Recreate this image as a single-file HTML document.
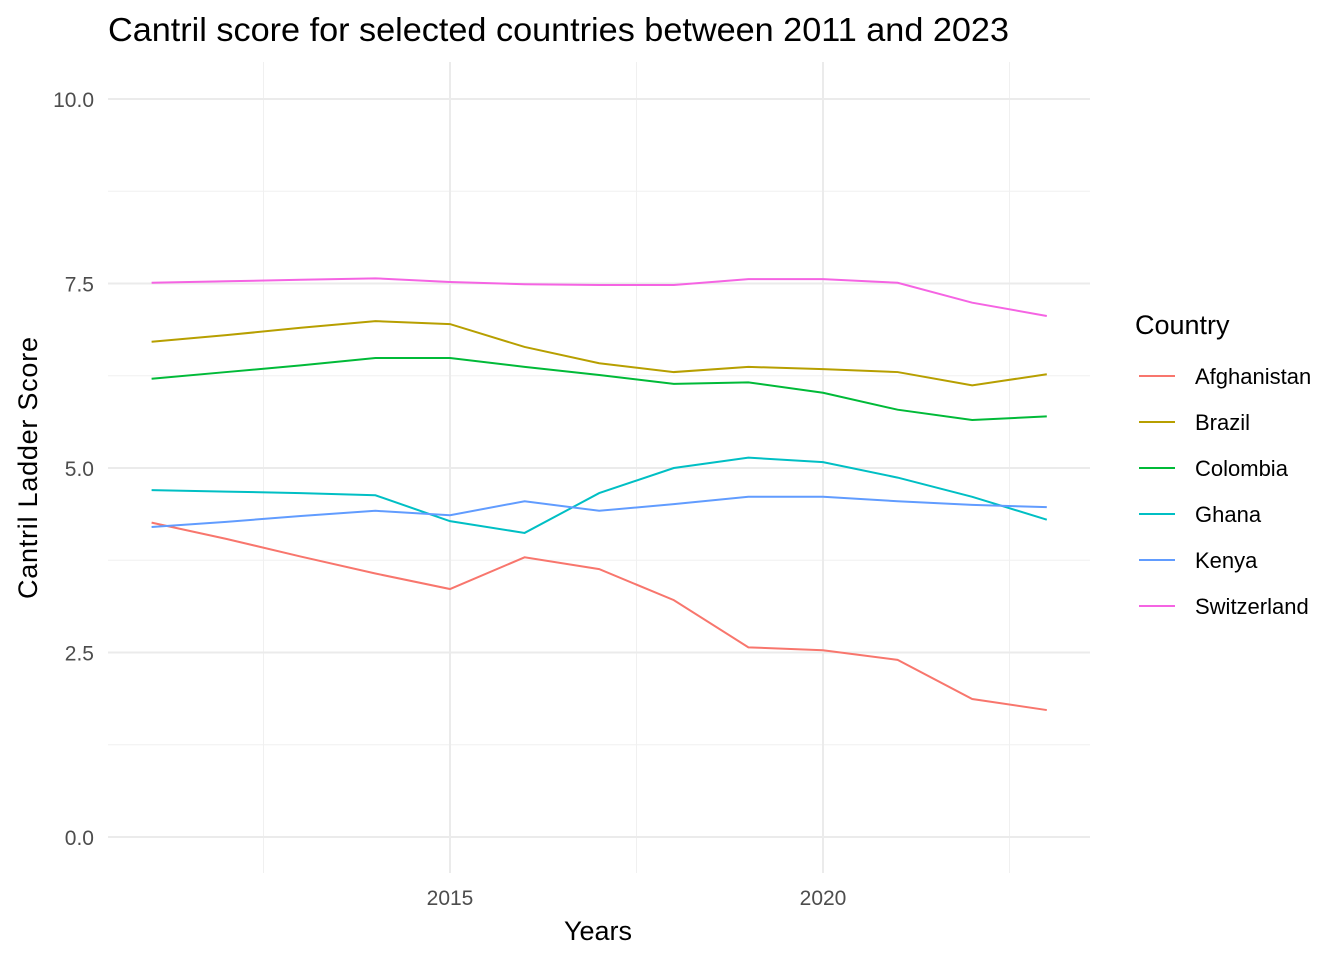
<!DOCTYPE html>
<html><head><meta charset="utf-8"><style>
body{margin:0;background:#fff;}
svg text{font-family:"Liberation Sans",Arial,sans-serif;}
</style></head><body>
<svg id="chart" width="1344" height="960">
<text x="108" y="41" font-size="33" textLength="901" lengthAdjust="spacingAndGlyphs" fill="#000">Cantril score for selected countries between 2011 and 2023</text>
<g id="grid"></g><g id="lines"></g><g id="axes"></g><g id="legend"></g>
<text x="598" y="940" font-size="27" text-anchor="middle" fill="#000">Years</text>
<text transform="translate(37,468) rotate(-90)" font-size="27" text-anchor="middle" textLength="262" fill="#000">Cantril Ladder Score</text>
</svg>
<script>
const years=[2011,2012,2013,2014,2015,2016,2017,2018,2019,2020,2021,2022,2023];
const countries=["Afghanistan","Brazil","Colombia","Ghana","Kenya","Switzerland"];
const colors=["#F8766D","#B79F00","#00BA38","#00BFC4","#619CFF","#F564E3"];
const afghanistan=[4.26,4.04,3.80,3.57,3.36,3.79,3.63,3.21,2.57,2.53,2.40,1.87,1.72];
const brazil=[6.71,6.80,6.90,6.99,6.95,6.64,6.42,6.30,6.37,6.34,6.30,6.12,6.27];
const colombia=[6.21,6.30,6.39,6.49,6.49,6.37,6.26,6.14,6.16,6.02,5.79,5.65,5.70];
const ghana=[4.70,4.68,4.66,4.63,4.28,4.12,4.66,5.00,5.14,5.08,4.87,4.61,4.30];
const kenya=[4.20,4.27,4.35,4.42,4.36,4.55,4.42,4.51,4.61,4.61,4.55,4.50,4.47];
const switzerland=[7.51,7.53,7.55,7.57,7.52,7.49,7.48,7.48,7.56,7.56,7.51,7.24,7.06];
const series=[afghanistan,brazil,colombia,ghana,kenya,switzerland];
const yTicks=[0,2.5,5,7.5,10];
const yMinor=[1.25,3.75,6.25,8.75];
const xTicks=[2015,2020];
const xMinor=[2012.5,2017.5,2022.5];
const NS="http://www.w3.org/2000/svg";
const X=v=>450+(v-2015)*74.6;
const Y=v=>837-v*73.8;
const L=108,R=1090,T=62,B=873;
function mk(tag,attrs,parent){const e=document.createElementNS(NS,tag);for(const k in attrs)e.setAttribute(k,attrs[k]);parent.appendChild(e);return e;}
const grid=document.getElementById('grid'),axes=document.getElementById('axes'),lines=document.getElementById('lines'),legend=document.getElementById('legend');
yMinor.forEach(v=>{const e=mk('line',{x1:L,x2:R,y1:Y(v),y2:Y(v),stroke:"#f0f0f0","stroke-width":1},grid);

});
xMinor.forEach(v=>{const e=mk('line',{x1:X(v),x2:X(v),y1:T,y2:B,stroke:"#f0f0f0","stroke-width":1},grid);

});
yTicks.forEach(v=>{const e=mk('line',{x1:L,x2:R,y1:Y(v),y2:Y(v),stroke:"#ebebeb","stroke-width":2},grid);


const t=mk('text',{x:94,y:Y(v)+8,"font-size":21,"text-anchor":"end",fill:"#4d4d4d"},axes);t.textContent=v.toFixed(1);

});
xTicks.forEach(v=>{const e=mk('line',{x1:X(v),x2:X(v),y1:T,y2:B,stroke:"#ebebeb","stroke-width":2},grid);


const t=mk('text',{x:X(v),y:905,"font-size":21,"text-anchor":"middle",fill:"#4d4d4d"},axes);t.textContent=v;

});
series.forEach((s,i)=>{const p=mk('polyline',{points:s.map((v,j)=>X(years[j])+","+Y(v)).join(" "),fill:"none",stroke:colors[i],"stroke-width":2},lines);

});
const lt=mk('text',{x:1135,y:334,"font-size":27,fill:"#000"},legend);lt.textContent="Country";


countries.forEach((c,i)=>{const y=376+i*46;
const g=mk('g',{},legend);


mk('line',{x1:1139,x2:1175,y1:y,y2:y,stroke:colors[i],"stroke-width":2},g);
const t=mk('text',{x:1195,y:y+8,"font-size":22,fill:"#000"},g);t.textContent=c;});
</script>
</body></html>
